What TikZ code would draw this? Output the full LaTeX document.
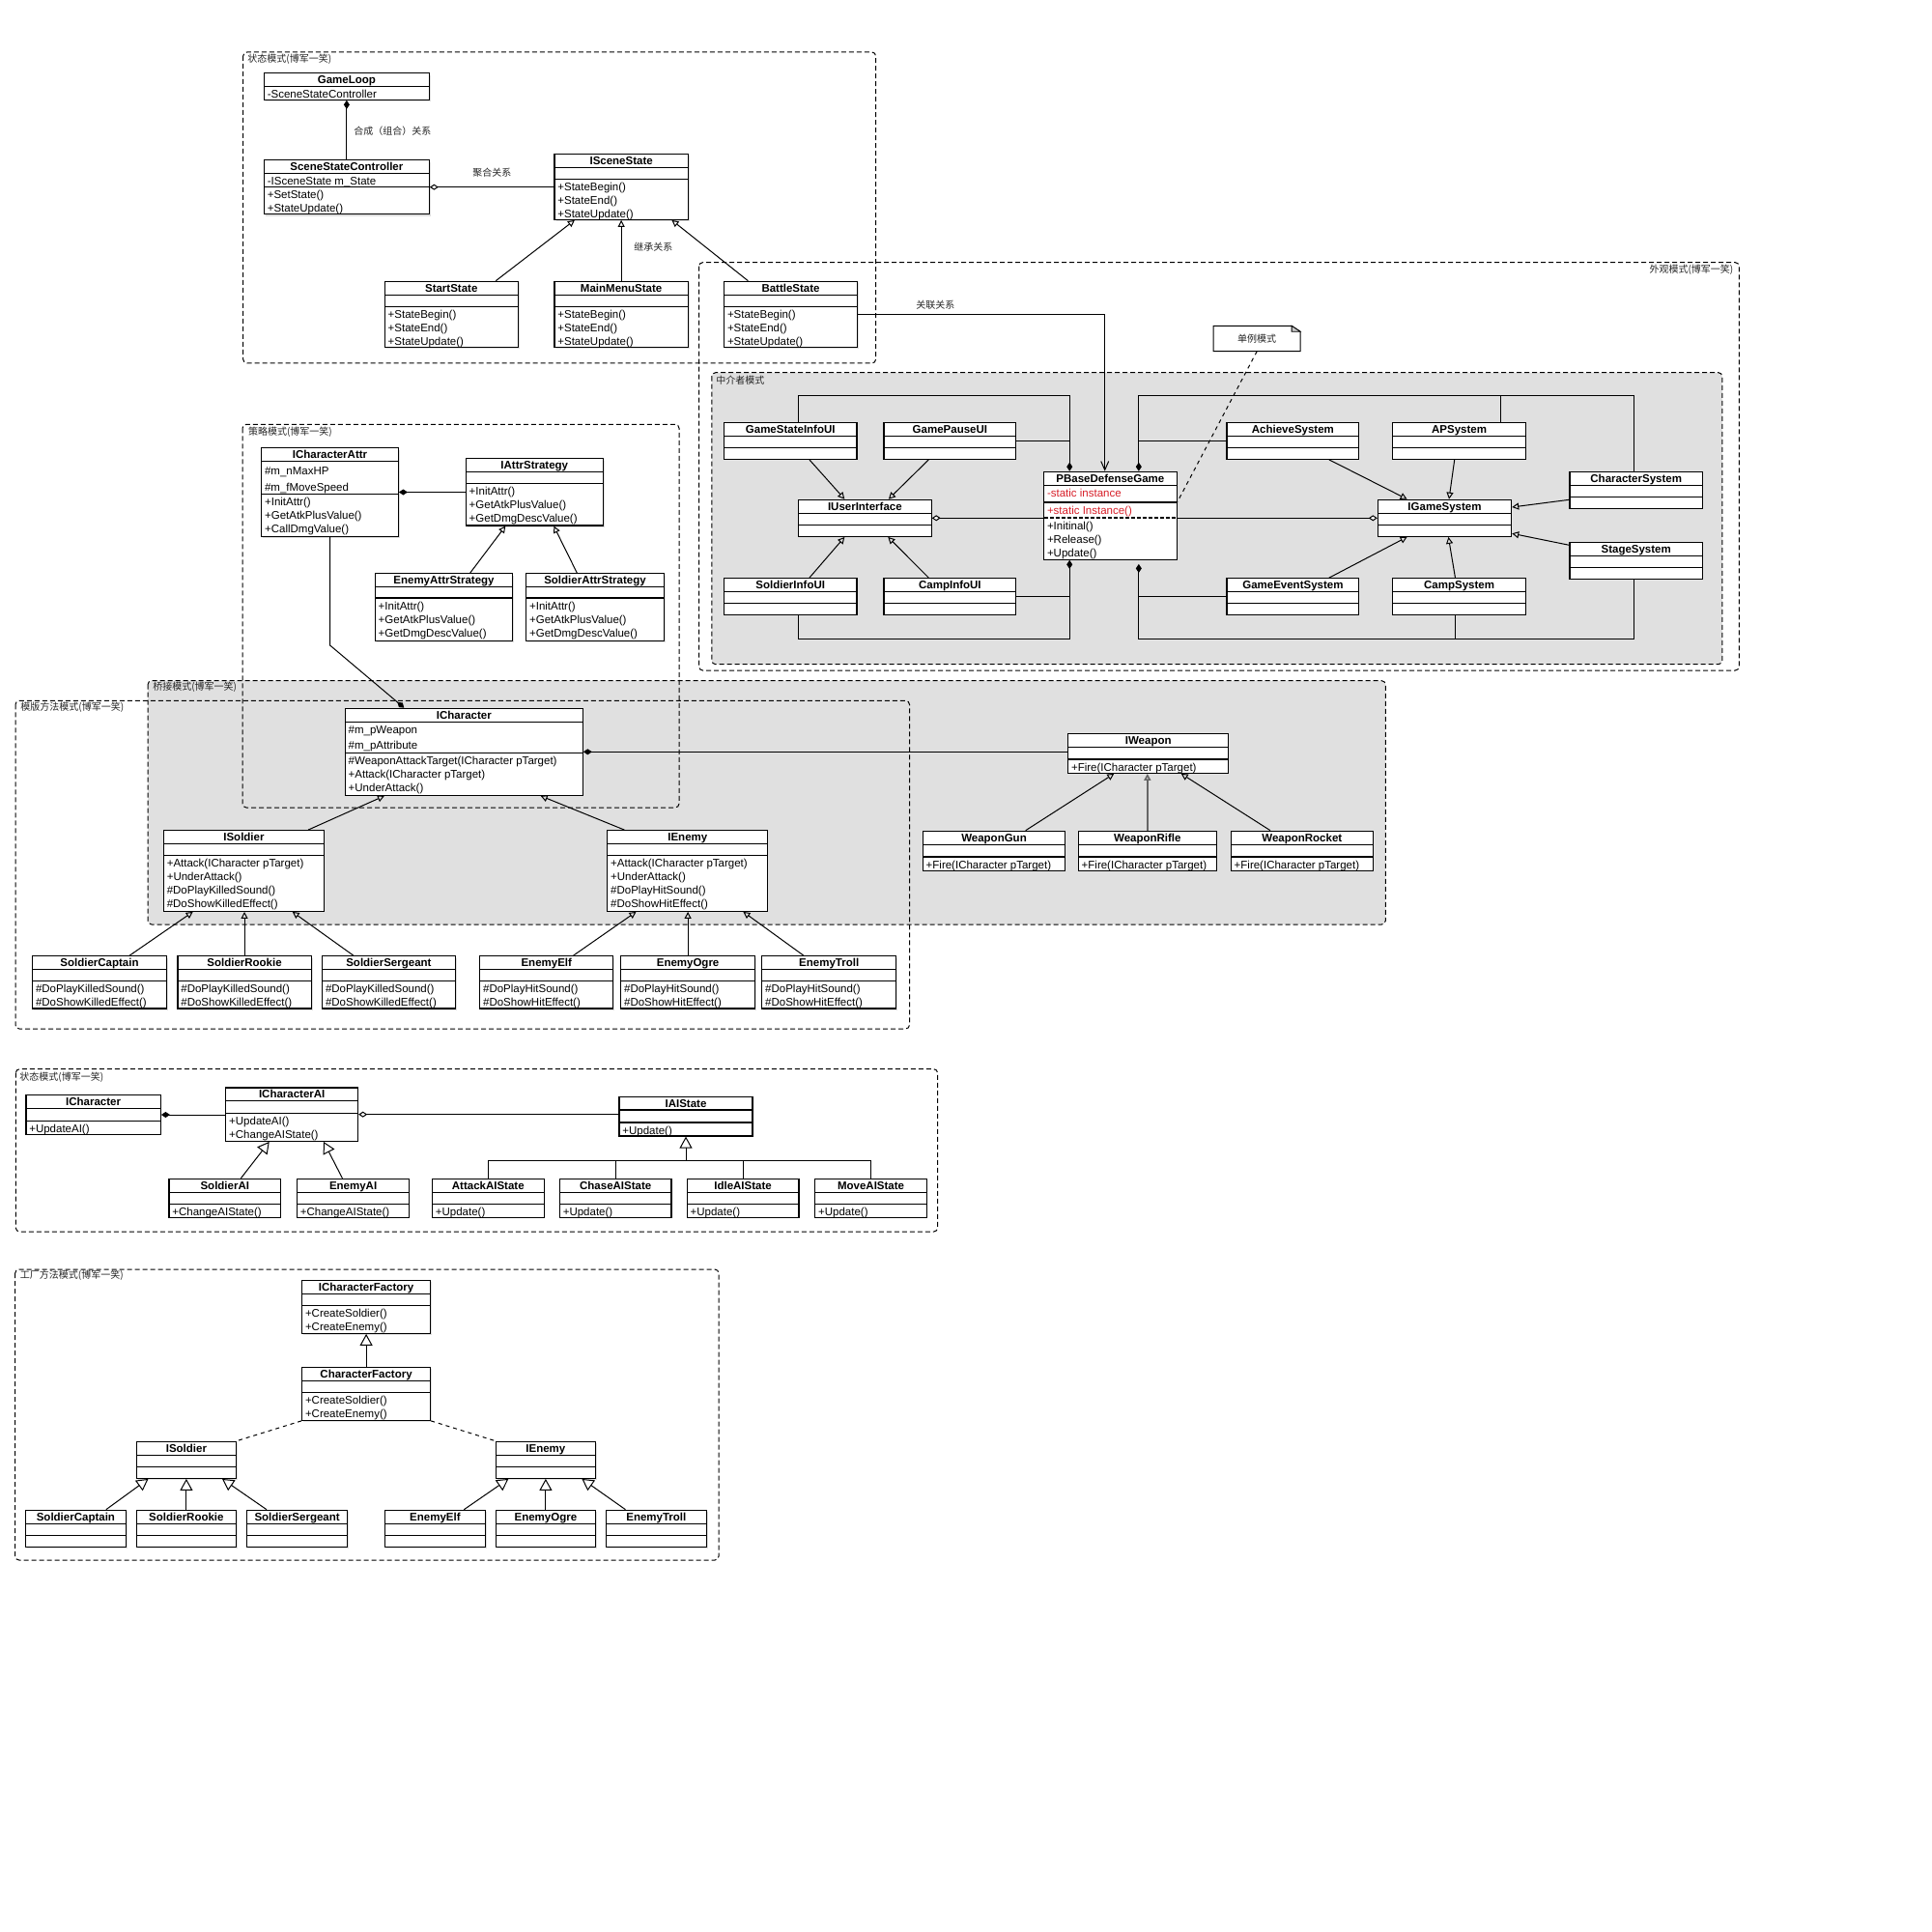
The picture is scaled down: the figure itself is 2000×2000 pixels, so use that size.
\documentclass[tikz,border=0pt]{standalone}
\usepackage{fontspec}
\setmainfont{Liberation Sans}
\newfontfamily\cjk{Noto Sans CJK SC}
\usetikzlibrary{arrows.meta,fit,calc,shadows}
\definecolor{umlred}{RGB}{215,30,40}
\definecolor{paneg}{RGB}{224,224,224}
\newcommand{\fs}{\fontsize{5.75pt}{7pt}\selectfont}
\newcommand{\fc}{\cjk\fontsize{5pt}{6pt}\selectfont}
\newcommand{\fst}{\rule{0pt}{5.8pt}}
\tikzset{
  cls/.style={draw, fill=white, inner sep=0pt, line width=0.6pt},
  shd/.style={drop shadow={shadow xshift=0.8pt, shadow yshift=-1pt, opacity=0.25}},
  sep/.style={line width=0.6pt},
  ttl/.style={anchor=base, inner sep=0pt, font=\fs\bfseries},
  txt/.style={anchor=north west, inner sep=0pt, align=left, font=\fs},
  lab/.style={inner sep=0pt, font=\fc, text=black!85},
  frame/.style={draw, dash pattern=on 2.5pt off 1.5pt, line width=0.5pt, rounded corners=2pt},
  con/.style={line width=0.5pt},
  inh/.style={con, -{Triangle[open, length=3.5pt, width=3.5pt]}},
  inhB/.style={con, -{Triangle[open, length=6pt, width=6.5pt]}},
  comp/.style={con, {Diamond[length=4.5pt, width=3pt]}-},
  compE/.style={con, -{Diamond[length=4.5pt, width=3pt]}},
  aggr/.style={con, {Diamond[open, fill=white, length=4.5pt, width=3pt]}-},
  aggrE/.style={con, -{Diamond[open, fill=white, length=4.5pt, width=3pt]}},
  assoc/.style={con, -{Straight Barb[length=4.5pt, width=4pt]}},
}
% [opts]{id}{x1}{x2}{y1}{ya}{yb}{y2}{title}
\newcommand{\UC}[9][]{%
  \node[cls, #1, fit={(#3,#5) (#4,#8)}] (#2) {};
  \draw[sep] (#3,#6) -- (#4,#6);
  \draw[sep] (#3,#7) -- (#4,#7);
  \node[ttl] (#2-t) at ({(#3+#4)/2},{#6-3}) {#9};
  \coordinate (#2-a) at ({#3+3},#6);
  \coordinate (#2-m) at ({#3+3},#7);
}
\newcommand{\UA}[2]{\node[txt] (#1-at) at (#1-a) {\fst#2};}
\newcommand{\UM}[2]{\node[txt] (#1-mt) at (#1-m) {\fst#2};}
\begin{document}
\begin{tikzpicture}[x=0.5pt, y=-0.5pt]
\useasboundingbox (0,0) rectangle (2000,2000);
\fill[white] (0,0) rectangle (2000,2000);
% ---------- frames ----------
\fill[paneg, rounded corners=2pt] (736.8,385.7) rectangle (1782.8,687.7);
\fill[paneg, rounded corners=2pt] (153,704.7) rectangle (1434.3,957);
\draw[frame] (251.7,54) rectangle (906.6,376);
\draw[frame] (723.5,271.7) rectangle (1800.3,694);
\draw[frame] (736.8,385.7) rectangle (1782.8,687.7);
\draw[frame] (251,439.3) rectangle (703,836);
\draw[frame] (153,704.7) rectangle (1434.3,957);
\draw[frame] (16,725.3) rectangle (941.5,1065);
\draw[frame] (16.3,1106.7) rectangle (970.6,1275);
\draw[frame] (15.7,1314) rectangle (744,1615);
\node[lab, anchor=west] (f1) at (256,61.7) {状态模式(博军一笑)};
\node[lab, anchor=east] (f2) at (1794.7,279.3) {外观模式(博军一笑)};
\node[lab, anchor=west] (f3) at (741,393.3) {中介者模式};
\node[lab, anchor=west] (f4) at (256.7,447.7) {策略模式(博军一笑)};
\node[lab, anchor=west] (f5) at (157.9,711.7) {桥接模式(博军一笑)};
\node[lab, anchor=west] (f6) at (21,732.3) {模版方法模式(博军一笑)};
\node[lab, anchor=west] (f7) at (20,1115) {状态模式(博军一笑)};
\node[lab, anchor=west] (f8) at (20.5,1320.7) {工厂方法模式(博军一笑)};

% ---------- state pattern ----------
\UC[shd]{gl}{273.4}{444.3}{75.7}{89.7}{103.3}{103.3}{GameLoop}
\UA{gl}{-SceneStateController}
\UC[shd]{ssc}{273.4}{444.3}{165.7}{179.3}{193.3}{221.7}{SceneStateController}
\UA{ssc}{-ISceneState m\_State}
\UM{ssc}{+SetState()\\+StateUpdate()}
\UC[shd]{iss}{574}{712.3}{159.3}{173.3}{185.7}{227.3}{ISceneState}
\UM{iss}{+StateBegin()\\+StateEnd()\\+StateUpdate()}
\UC[shd]{sst}{398.3}{536.2}{291.3}{305.3}{317.3}{359.3}{StartState}
\UM{sst}{+StateBegin()\\+StateEnd()\\+StateUpdate()}
\UC[shd]{mms}{574}{712.3}{291.3}{305.3}{317.3}{359.3}{MainMenuState}
\UM{mms}{+StateBegin()\\+StateEnd()\\+StateUpdate()}
\UC[shd]{bts}{749.6}{887.5}{291.3}{305.3}{317.3}{359.3}{BattleState}
\UM{bts}{+StateBegin()\\+StateEnd()\\+StateUpdate()}
\draw[comp] (gl.south) -- (ssc.north);
\draw[aggr] (ssc.east) -- (ssc.east -| iss.west);
\draw[inh] ($(sst.north)+(46,0)$) -- ($(iss.south)+(-48.3,0)$);
\draw[inh] (mms.north) -- (iss.south);
\draw[inh] ($(bts.north)+(-44.2,0)$) -- ($(iss.south)+(52.3,0)$);
\node[lab, anchor=west] (l1) at (366,136) {合成（组合）关系};
\node[lab, anchor=west] (l2) at (489,178.3) {聚合关系};
\node[lab, anchor=west] (l3) at (656,256) {继承关系};
\node[lab, anchor=west] (l4) at (948,315.7) {关联关系};

% ---------- mediator ----------
\UC{gsi}{749.5}{887}{437.7}{451.7}{463.3}{475.3}{GameStateInfoUI}
\UC{gpu}{915}{1051.8}{437.7}{451.7}{463.3}{475.3}{GamePauseUI}
\UC{iui}{826.6}{964.1}{517.3}{531.7}{543.3}{555.3}{IUserInterface}
\UC{siu}{749.5}{887}{598.7}{612.3}{624.3}{636.3}{SoldierInfoUI}
\UC{ciu}{915}{1051.8}{598.7}{612.3}{624.3}{636.3}{CampInfoUI}
\UC{pbdg}{1080.6}{1218.1}{488.3}{502.7}{520}{579.3}{PBaseDefenseGame}
\UA{pbdg}{\textcolor{umlred}{-static instance}}
\UM{pbdg}{\textcolor{umlred}{+static Instance()}}
\draw[sep, dash pattern=on 2pt off 1pt] (1080.6,536) -- (1218.1,536);
\node[txt] (pbdg-m2) at (1083.6,536) {\fst+Initinal()\\+Release()\\+Update()};
\UC{ach}{1270}{1406.8}{437.7}{451.7}{463.3}{475.3}{AchieveSystem}
\UC{aps}{1441.8}{1579.3}{437.7}{451.7}{463.3}{475.3}{APSystem}
\UC{igs}{1426.4}{1564.6}{517.3}{531.7}{543.3}{555.3}{IGameSystem}
\UC{chs}{1625}{1762.4}{488.3}{502.7}{514.3}{526.3}{CharacterSystem}
\UC{sts}{1625}{1762.4}{561.3}{575.3}{587.3}{599.3}{StageSystem}
\UC{ges}{1270}{1406.8}{598.7}{612.3}{624.3}{636.3}{GameEventSystem}
\UC{cps}{1441.8}{1579.3}{598.7}{612.3}{624.3}{636.3}{CampSystem}

\draw[assoc] (bts.east) -| ($(pbdg.north)+(-5.65,0)$);

\node[inner sep=0pt, fit={(1256.6,337.7) (1345.7,363.3)}] (note) {};
\draw[line width=0.5pt, fill=white] (note.north west) -- ($(note.north east)+(-9,0)$) -- ($(note.north east)+(0,6)$) -- (note.south east) -- (note.south west) -- cycle;
\draw[line width=0.4pt, fill=gray!45] ($(note.north east)+(-9,0)$) -- ($(note.north east)+(0,6)$) -- ($(note.north east)+(-9,6)$) -- cycle;
\node[lab] (notet) at (note.center) {单例模式};
\draw[con, dash pattern=on 2pt off 2pt] (note.south) -- ($(pbdg.east)+(0,-14)$);

\draw[inh] ($(gsi.south)+(19.65,0)$) -- ($(iui.north)+(-21,0)$);
\draw[inh] ($(gpu.south)+(-22.1,0)$) -- ($(iui.north)+(24.5,0)$);
\draw[inh] ($(siu.north)+(19.65,0)$) -- ($(iui.south)+(-21,0)$);
\draw[inh] ($(ciu.north)+(-22.1,0)$) -- ($(iui.south)+(23.9,0)$);
\draw[aggr] (iui.east) -- (iui.east -| pbdg.west);
\draw[aggrE] (pbdg.east |- igs.west) -- (igs.west);
\coordinate (pTL) at ($(pbdg.north)+(-42.15,0)$);
\coordinate (pTR) at ($(pbdg.north)+(29.45,0)$);
\coordinate (pBL) at ($(pbdg.south)+(-42.15,0)$);
\coordinate (pBR) at ($(pbdg.south)+(29.45,4)$);
\coordinate (topY) at (0,409.8);
\coordinate (botY) at (0,661);
\coordinate (apsT) at ($(aps.north)+(42.85,0)$);
\draw[comp] (pTL) -- (pTL |- topY) -| ($(gsi.north)+(8.35,0)$);
\draw[con] (gpu.east) -- (gpu.east -| pTL);
\draw[comp] (pTR) -- (pTR |- topY) -| ($(chs.north)+(-2,0)$);
\draw[con] (apsT) -- (apsT |- topY);
\draw[con] (ach.west) -- (ach.west -| pTR);
\draw[comp] (pBL) -- (pBL |- botY) -| ($(siu.south)+(8.35,0)$);
\draw[con] (ciu.east) -- (ciu.east -| pBL);
\draw[comp] (pBR) -- (pBR |- botY) -| ($(sts.south)+(-2,0)$);
\draw[con] ($(cps.south)+(-4.1,0)$) -- ($(cps.south)+(-4.1,24.7)$);
\draw[con] (ges.west) -- (ges.west -| pBR);
\draw[inh] ($(ach.south)+(37.5,0)$) -- ($(igs.north)+(-38.9,0)$);
\draw[inh] ($(aps.south)+(-4.85,0)$) -- ($(igs.north)+(4.5,0)$);
\draw[inh] ($(chs.west)+(0,10)$) -- ($(igs.east)+(0,-11.3)$);
\draw[inh] ($(sts.west)+(0,-16)$) -- ($(igs.east)+(0,16)$);
\draw[inh] ($(ges.north)+(37.5,0)$) -- ($(igs.south)+(-38.9,0)$);
\draw[inh] ($(cps.north)+(-4.1,0)$) -- ($(igs.south)+(3.9,0)$);

% ---------- strategy ----------
\UC[shd]{ica}{270.7}{412.3}{463.7}{477.3}{511.3}{555.3}{ICharacterAttr}
\UA{ica}{\rule{0pt}{6.9pt}\#m\_nMaxHP\\[1.35pt]\#m\_fMoveSpeed}
\UM{ica}{+InitAttr()\\+GetAtkPlusValue()\\+CallDmgValue()}
\UC[shd]{ias}{482.3}{624.3}{474.7}{488.3}{500.3}{544}{IAttrStrategy}
\UM{ias}{+InitAttr()\\+GetAtkPlusValue()\\+GetDmgDescValue()}
\UC[shd]{eas}{388.3}{530.7}{593.7}{607.3}{619}{663.3}{EnemyAttrStrategy}
\UM{eas}{+InitAttr()\\+GetAtkPlusValue()\\+GetDmgDescValue()}
\UC[shd]{sas}{544.7}{687.3}{593.7}{607.3}{619}{663.3}{SoldierAttrStrategy}
\UM{sas}{+InitAttr()\\+GetAtkPlusValue()\\+GetDmgDescValue()}
\draw[comp] (ica.east) -- (ica.east -| ias.west);
\draw[inh] ($(eas.north)+(27.2,0)$) -- ($(ias.south)+(-30,0)$);
\draw[inh] ($(sas.north)+(-18.7,0)$) -- ($(ias.south)+(20,0)$);

% ---------- bridge / template ----------
\UC{ich}{357.3}{603.3}{733.3}{747.7}{779.3}{823.3}{ICharacter}
\UA{ich}{\#m\_pWeapon\\[1pt]\#m\_pAttribute}
\UM{ich}{\#WeaponAttackTarget(ICharacter pTarget)\\+Attack(ICharacter pTarget)\\+UnderAttack()}
\draw[compE] (ica.south) -- ++(0,112) -- ($(ich.north)+(-62,0)$);
\UC{iwp}{1105.7}{1271.7}{759.3}{773.3}{786}{800.3}{IWeapon}
\UM{iwp}{+Fire(ICharacter pTarget)}
\UC{isd}{169.4}{335.5}{859.7}{873.3}{885.3}{943.3}{ISoldier}
\UM{isd}{+Attack(ICharacter pTarget)\\+UnderAttack()\\\#DoPlayKilledSound()\\\#DoShowKilledEffect()}
\UC{ien}{628.8}{794.8}{859.7}{873.3}{885.3}{943.3}{IEnemy}
\UM{ien}{+Attack(ICharacter pTarget)\\+UnderAttack()\\\#DoPlayHitSound()\\\#DoShowHitEffect()}
\UC{wgn}{955.3}{1102.7}{860.3}{874.3}{887}{901.3}{WeaponGun}
\UM{wgn}{+Fire(ICharacter pTarget)}
\UC{wrf}{1116.3}{1259.3}{860.3}{874.3}{887}{901.3}{WeaponRifle}
\UM{wrf}{+Fire(ICharacter pTarget)}
\UC{wrk}{1274.3}{1421.3}{860.3}{874.3}{887}{901.3}{WeaponRocket}
\UM{wrk}{+Fire(ICharacter pTarget)}
\draw[comp] (ich.east) -- (ich.east -| iwp.west);
\draw[inh] ($(isd.north)+(66.55,0)$) -- ($(ich.south)+(-82.4,0)$);
\draw[inh] ($(ien.north)+(-65.4,0)$) -- ($(ich.south)+(79.4,0)$);
\draw[inh] ($(wgn.north)+(32.7,0)$) -- ($(iwp.south)+(-35.4,0)$);
\draw[inh, draw=black!60, line width=0.8pt] (wrf.north) -- (wrf.north |- iwp.south);
\draw[inh] ($(wrk.north)+(-32.8,0)$) -- ($(iwp.south)+(34,0)$);

\UC[shd]{sc1}{33.6}{172.4}{989.7}{1003.3}{1015.3}{1044}{SoldierCaptain}
\UM{sc1}{\#DoPlayKilledSound()\\\#DoShowKilledEffect()}
\UC[shd]{sr1}{184}{322.1}{989.7}{1003.3}{1015.3}{1044}{SoldierRookie}
\UM{sr1}{\#DoPlayKilledSound()\\\#DoShowKilledEffect()}
\UC[shd]{ss1}{333.6}{471.2}{989.7}{1003.3}{1015.3}{1044}{SoldierSergeant}
\UM{ss1}{\#DoPlayKilledSound()\\\#DoShowKilledEffect()}
\UC[shd]{ee1}{496.7}{634.8}{989.7}{1003.3}{1015.3}{1044}{EnemyElf}
\UM{ee1}{\#DoPlayHitSound()\\\#DoShowHitEffect()}
\UC[shd]{eo1}{642.7}{781.5}{989.7}{1003.3}{1015.3}{1044}{EnemyOgre}
\UM{eo1}{\#DoPlayHitSound()\\\#DoShowHitEffect()}
\UC[shd]{et1}{788.8}{927.6}{989.7}{1003.3}{1015.3}{1044}{EnemyTroll}
\UM{et1}{\#DoPlayHitSound()\\\#DoShowHitEffect()}
\draw[inh] ($(sc1.north)+(31.2,0)$) -- ($(isd.south)+(-52.75,0)$);
\draw[inh] (sr1.north) -- (sr1.north |- isd.south);
\draw[inh] ($(ss1.north)+(-36.6,0)$) -- ($(isd.south)+(50.25,0)$);
\draw[inh] ($(ee1.north)+(27.85,0)$) -- ($(ien.south)+(-53.3,0)$);
\draw[inh] (eo1.north) -- (eo1.north |- ien.south);
\draw[inh] ($(et1.north)+(-26.4,0)$) -- ($(ien.south)+(57.6,0)$);

% ---------- AI state ----------
\UC{aich}{26.9}{166.3}{1133.7}{1147.7}{1160.3}{1174.3}{ICharacter}
\UM{aich}{+UpdateAI()}
\UC{icai}{233.8}{370.6}{1126}{1139.7}{1152.3}{1181.3}{ICharacterAI}
\UM{icai}{+UpdateAI()\\+ChangeAIState()}
\UC{iais}{641}{779}{1135.3}{1149}{1162}{1176}{IAIState}
\UM{iais}{+Update()}
\UC{sai}{175}{290.6}{1220.3}{1234.3}{1246.7}{1260.7}{SoldierAI}
\UM{sai}{+ChangeAIState()}
\UC{eai}{307.5}{423.75}{1220.3}{1234.3}{1246.7}{1260.7}{EnemyAI}
\UM{eai}{+ChangeAIState()}
\UC{aas}{447.5}{563.1}{1220.3}{1234.3}{1246.7}{1260.7}{AttackAIState}
\UM{aas}{+Update()}
\UC{cas}{579.4}{695}{1220.3}{1234.3}{1246.7}{1260.7}{ChaseAIState}
\UM{cas}{+Update()}
\UC{ids}{711.25}{826.9}{1220.3}{1234.3}{1246.7}{1260.7}{IdleAIState}
\UM{ids}{+Update()}
\UC{mas}{843.75}{959.4}{1220.3}{1234.3}{1246.7}{1260.7}{MoveAIState}
\UM{mas}{+Update()}
\draw[comp] (aich.east) -- (aich.east -| icai.west);
\draw[aggr] (icai.east) -- (icai.east -| iais.west);
\draw[inhB] ($(sai.north)+(16.6,0)$) -- ($(icai.south)+(-23.45,0)$);
\draw[inhB] ($(eai.north)+(-11.2,0)$) -- ($(icai.south)+(32.8,0)$);
\coordinate (bus) at ($(iais.south)+(0,24.7)$);
\draw[inhB] (bus) -- (iais.south);
\draw[con] (aas.north) |- (bus);
\draw[con] (mas.north) |- (bus);
\draw[con] (cas.north) -- (cas.north |- bus);
\draw[con] (ids.north) -- (ids.north |- bus);

% ---------- factory ----------
\UC[shd]{icf}{312.6}{445.6}{1325.3}{1339.3}{1351.7}{1380.3}{ICharacterFactory}
\UM{icf}{+CreateSoldier()\\+CreateEnemy()}
\UC[shd]{cf}{312.6}{445.6}{1415.3}{1429.7}{1441.7}{1470.3}{CharacterFactory}
\UM{cf}{+CreateSoldier()\\+CreateEnemy()}
\draw[inhB] (cf.north) -- (icf.south);
\UC[shd]{fisd}{141.6}{244.2}{1492.3}{1506.3}{1518.3}{1530.3}{ISoldier}
\UC[shd]{fien}{513.6}{616.2}{1492.3}{1506.3}{1518.3}{1530.3}{IEnemy}
\draw[con, dash pattern=on 2pt off 2pt] (cf.south west) -- (fisd.north east);
\draw[con, dash pattern=on 2pt off 2pt] (cf.south east) -- (fien.north west);
\UC[shd]{fsc}{26.6}{130.2}{1563.3}{1577.7}{1589.3}{1601.3}{SoldierCaptain}
\UC[shd]{fsr}{141.6}{244.2}{1563.3}{1577.7}{1589.3}{1601.3}{SoldierRookie}
\UC[shd]{fss}{255.6}{359.6}{1563.3}{1577.7}{1589.3}{1601.3}{SoldierSergeant}
\UC[shd]{fee}{398.6}{502.2}{1563.3}{1577.7}{1589.3}{1601.3}{EnemyElf}
\UC[shd]{feo}{513.6}{616.2}{1563.3}{1577.7}{1589.3}{1601.3}{EnemyOgre}
\UC[shd]{fet}{627.6}{731.1}{1563.3}{1577.7}{1589.3}{1601.3}{EnemyTroll}
\draw[inhB] ($(fsc.north)+(31.4,0)$) -- ($(fisd.south)+(-39.4,0)$);
\draw[inhB] (fsr.north) -- (fisd.south);
\draw[inhB] ($(fss.north)+(-31.6,0)$) -- ($(fisd.south)+(37.1,0)$);
\draw[inhB] ($(fee.north)+(29.9,0)$) -- ($(fien.south)+(-38.5,0)$);
\draw[inhB] (feo.north) -- (fien.south);
\draw[inhB] ($(fet.north)+(-31.85,0)$) -- ($(fien.south)+(37.5,0)$);
\end{tikzpicture}
\end{document}
